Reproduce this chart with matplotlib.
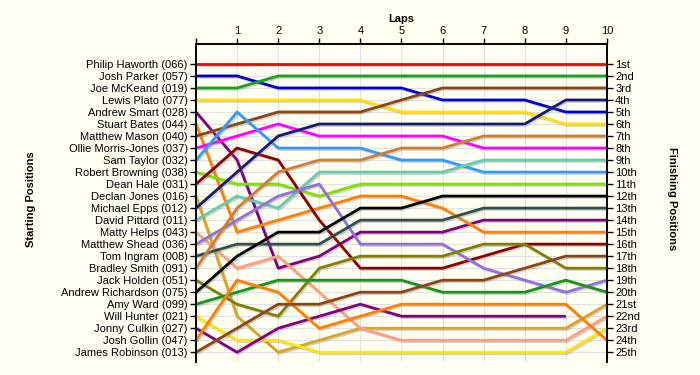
import numpy as np
import matplotlib
matplotlib.use('Agg')
import matplotlib.pyplot as plt
import matplotlib.patheffects as pe

plt.rcParams['font.family'] = ['Liberation Sans', 'DejaVu Sans']

###: Data - drivers in starting order, position after each lap (0 = grid)
laps = list(range(0, 11))
names = ['Philip Haworth (066)', 'Josh Parker (057)', 'Joe McKeand (019)', 'Lewis Plato (077)',
         'Andrew Smart (028)', 'Stuart Bates (044)', 'Matthew Mason (040)', 'Ollie Morris-Jones (037)',
         'Sam Taylor (032)', 'Robert Browning (038)', 'Dean Hale (031)', 'Declan Jones (016)',
         'Michael Epps (012)', 'David Pittard (011)', 'Matty Helps (043)', 'Matthew Shead (036)',
         'Tom Ingram (008)', 'Bradley Smith (091)', 'Jack Holden (051)', 'Andrew Richardson (075)',
         'Amy Ward (099)', 'Will Hunter (021)', 'Jonny Culkin (027)', 'Josh Gollin (047)',
         'James Robinson (013)']
finish_labels = ['1st', '2nd', '3rd', '4th', '5th', '6th', '7th', '8th', '9th', '10th',
                 '11th', '12th', '13th', '14th', '15th', '16th', '17th', '18th', '19th', '20th',
                 '21st', '22nd', '23rd', '24th', '25th']

positions = [
    [1, 1, 1, 1, 1, 1, 1, 1, 1, 1, 1],
    [2, 2, 3, 3, 3, 3, 4, 4, 4, 5, 5],
    [3, 3, 2, 2, 2, 2, 2, 2, 2, 2, 2],
    [4, 4, 4, 4, 4, 5, 5, 5, 5, 6, 6],
    [5, 9, 18, 17, 15, 15, 15, 14, 14, 14, 14],
    [6, 15, 14, 13, 12, 12, 13, 15, 15, 15, 15],
    [7, 6, 5, 5, 5, 4, 3, 3, 3, 3, 3],
    [8, 7, 6, 7, 7, 7, 7, 8, 8, 8, 8],
    [9, 5, 8, 8, 8, 9, 9, 10, 10, 10, 10],
    [10, 11, 11, 12, 11, 11, 11, 11, 11, 11, 11],
    [11, 8, 9, 14, 18, 18, 18, 17, 16, 16, 16],
    [12, 22, 25, 24, 23, 23, 23, 23, 23, 23, 21],
    [13, 10, 7, 6, 6, 6, 6, 6, 6, 4, 4],
    [14, 12, 13, 10, 10, 10, 10, 9, 9, 9, 9],
    [15, 18, 17, 20, 23, 24, 24, 24, 24, 24, 22],
    [16, 14, 12, 11, 16, 16, 16, 18, 19, 20, 19],
    [17, 16, 16, 16, 14, 14, 14, 13, 13, 13, 13],
    [18, 13, 10, 9, 9, 8, 8, 7, 7, 7, 7],
    [19, 21, 22, 18, 17, 17, 17, 16, 16, 18, 18],
    [20, 17, 15, 15, 13, 13, 12, 12, 12, 12, 12],
    [21, 20, 19, 19, 19, 19, 20, 20, 20, 19, 20],
    [22, 24, 24, 25, 25, 25, 25, 25, 25, 25, 23],
    [23, 25, 23, 22, 21, 22, 22, 22, 22, 22, np.nan],
    [24, 19, 20, 23, 22, 21, 21, 21, 21, 21, 24],
    [25, 23, 21, 21, 20, 20, 19, 19, 18, 17, 17],
]

colors = ['#FF0000', '#0000CD', '#1E9E1E', '#FFE000', '#800080', '#FF8000', '#8B4513', '#FF00FF',
          '#3399FF', '#80E000', '#8B0000', '#DAA520', '#191970', '#66CDAA', '#FFA07A', '#9370DB',
          '#2F4F4F', '#CD7F32', '#808000', '#000000', '#169616', '#FFE600', '#800080', '#FF8000',
          '#8B4513']

###: Plot
bg = '#FFFFF2'
fig = plt.figure(figsize=(7, 3.75), dpi=100, facecolor=bg)
ax = fig.add_axes([0.28, 0.035, 0.587, 0.848])
ax.set_facecolor(bg)

for pos, c in zip(positions, colors):
    ax.plot(laps, pos, color=c, lw=2.0, solid_capstyle='butt', zorder=3,
            path_effects=[pe.SimpleLineShadow(offset=(1, -1), alpha=0.35, shadow_color='gray'),
                          pe.Normal()])

n = len(names)
ax.set_xlim(0, 10)
ax.set_ylim(n + 0.8, -0.67)

ax.set_yticks(range(1, n + 1))
ax.set_yticklabels(names, fontsize=8)
ax.xaxis.tick_top()
ax.set_xticks(laps)
ax.set_xticklabels([''] + [str(l) for l in laps[1:]], fontsize=8)
ax.tick_params(axis='both', direction='out', length=4, width=1, pad=2)

ax2 = ax.twinx()
ax2.set_ylim(ax.get_ylim())
ax2.set_yticks(range(1, n + 1))
ax2.set_yticklabels(finish_labels, fontsize=8)
ax2.tick_params(axis='y', direction='out', length=4, width=1, pad=2)

for a in (ax, ax2):
    a.spines['bottom'].set_visible(False)
    for s in ('left', 'right', 'top'):
        a.spines[s].set_linewidth(1.2)

ax.grid(True, color='#E2E2E2', lw=0.8, zorder=0)
ax.set_axisbelow(True)

fig.text(0.573, 0.95, 'Laps', ha='center', va='center', fontsize=8, fontweight='bold')
fig.text(0.045, 0.47, 'Starting Positions', ha='center', va='center', rotation=90,
         fontsize=8, fontweight='bold')
fig.text(0.96, 0.47, 'Finishing Positions', ha='center', va='center', rotation=270,
         fontsize=8, fontweight='bold')

fig.savefig('out.png', dpi=100, facecolor=bg)
